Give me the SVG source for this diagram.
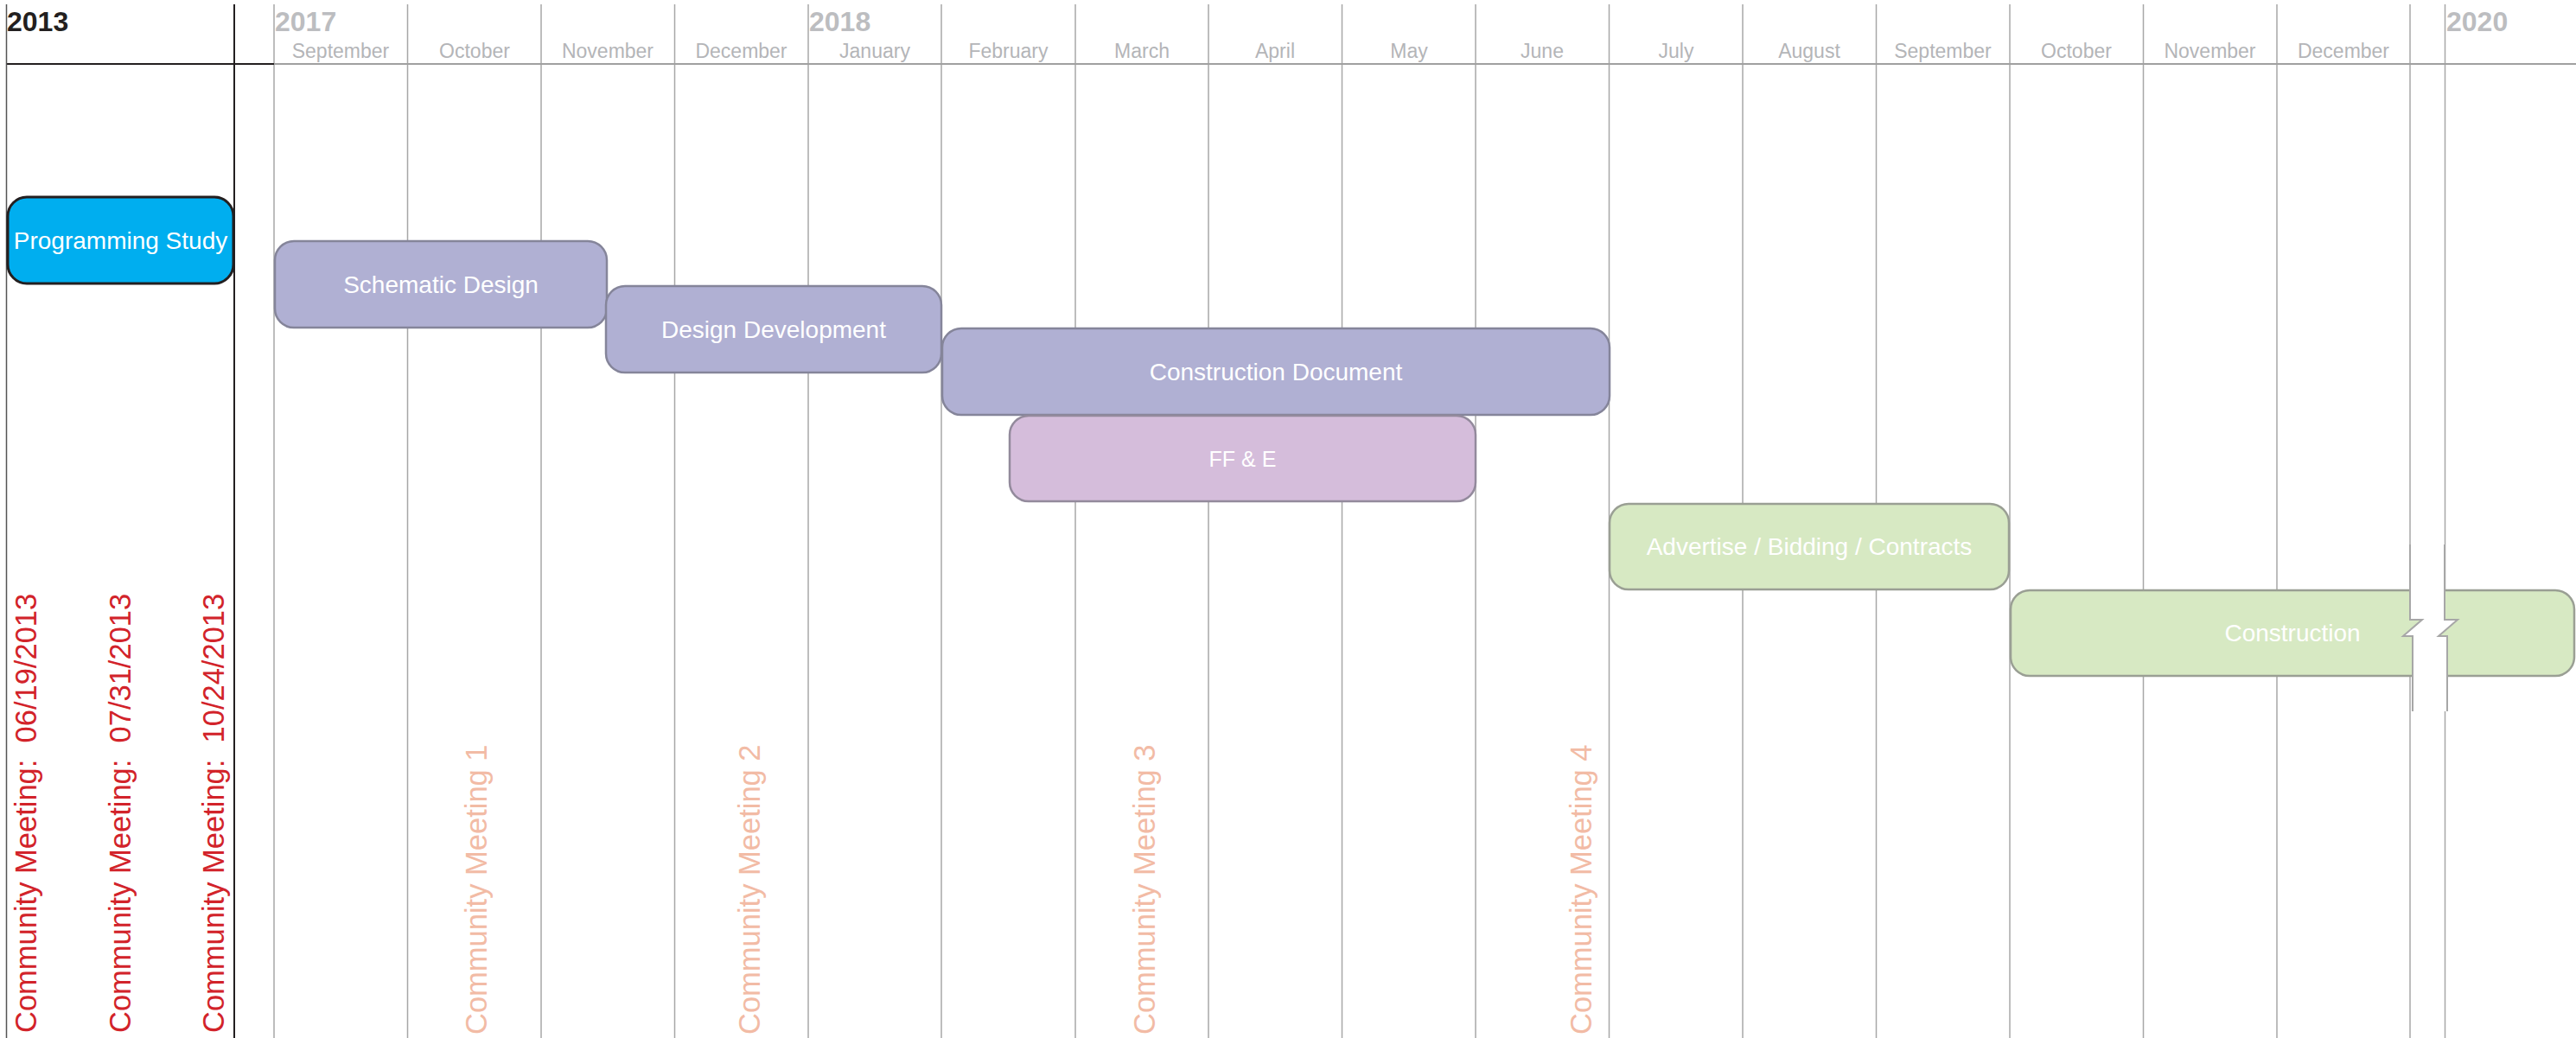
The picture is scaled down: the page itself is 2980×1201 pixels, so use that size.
<svg xmlns="http://www.w3.org/2000/svg" width="2980" height="1201" viewBox="0 0 2980 1201">
<style>
.grid{stroke:#a7a7a7;stroke-width:1.5;fill:none}
.year{font-family:"Liberation Sans",Arial,sans-serif;font-size:32px;font-weight:bold;fill:#bcbdc0}
.month{font-family:"Liberation Sans",Arial,sans-serif;font-size:23px;fill:#b4b5b8;text-anchor:middle}
.lbl{font-family:"Liberation Sans",Arial,sans-serif;font-size:28px;fill:#ffffff;text-anchor:middle}
.lav{fill:#b0b0d3;stroke:#85859a;stroke-width:2.5}
.pur{fill:#d5bddb;stroke:#938a9c;stroke-width:2.5}
.grn{fill:#d7e9c3;stroke:#9a9f94;stroke-width:2.5}
.red{font-family:"Liberation Sans",Arial,sans-serif;font-size:34.5px;fill:#d2232a}
.pink{font-family:"Liberation Sans",Arial,sans-serif;font-size:34.5px;fill:#f2bba5}
</style>
<rect width="2980" height="1201" fill="#ffffff"/>
<g id="grid">
<line class="grid" x1="317" y1="5" x2="317" y2="1201"/>
<line class="grid" x1="471.5" y1="5" x2="471.5" y2="1201"/>
<line class="grid" x1="626" y1="5" x2="626" y2="1201"/>
<line class="grid" x1="780.5" y1="5" x2="780.5" y2="1201"/>
<line class="grid" x1="935" y1="5" x2="935" y2="1201"/>
<line class="grid" x1="1089" y1="5" x2="1089" y2="1201"/>
<line class="grid" x1="1244" y1="5" x2="1244" y2="1201"/>
<line class="grid" x1="1398" y1="5" x2="1398" y2="1201"/>
<line class="grid" x1="1552.5" y1="5" x2="1552.5" y2="1201"/>
<line class="grid" x1="1707" y1="5" x2="1707" y2="1201"/>
<line class="grid" x1="1861.5" y1="5" x2="1861.5" y2="1201"/>
<line class="grid" x1="2016" y1="5" x2="2016" y2="1201"/>
<line class="grid" x1="2170.5" y1="5" x2="2170.5" y2="1201"/>
<line class="grid" x1="2325" y1="5" x2="2325" y2="1201"/>
<line class="grid" x1="2479.5" y1="5" x2="2479.5" y2="1201"/>
<line class="grid" x1="2634" y1="5" x2="2634" y2="1201"/>
<line class="grid" x1="2788" y1="5" x2="2788" y2="1201"/>
<line class="grid" x1="2828.5" y1="5" x2="2828.5" y2="1201"/>
<line x1="317" y1="74" x2="2980" y2="74" stroke="#a0a0a0" stroke-width="2"/>
<line x1="7" y1="74" x2="317" y2="74" stroke="#231f20" stroke-width="2"/>
<line x1="7.5" y1="5" x2="7.5" y2="1201" stroke="#555" stroke-width="1.5"/>
<line x1="271" y1="5" x2="271" y2="1201" stroke="#231f20" stroke-width="2"/>
</g>
<g id="header">
<text x="8" y="36" class="year" style="fill:#231f20">2013</text>
<text x="318" y="36" class="year">2017</text>
<text x="936" y="36" class="year">2018</text>
<text x="2830" y="36" class="year">2020</text>
<text class="month" x="394" y="67">September</text>
<text class="month" x="549" y="67">October</text>
<text class="month" x="703" y="67">November</text>
<text class="month" x="857.5" y="67">December</text>
<text class="month" x="1012" y="67">January</text>
<text class="month" x="1166.5" y="67">February</text>
<text class="month" x="1321" y="67">March</text>
<text class="month" x="1475" y="67">April</text>
<text class="month" x="1630" y="67">May</text>
<text class="month" x="1784" y="67">June</text>
<text class="month" x="1939" y="67">July</text>
<text class="month" x="2093" y="67">August</text>
<text class="month" x="2247.5" y="67">September</text>
<text class="month" x="2402" y="67">October</text>
<text class="month" x="2556.5" y="67">November</text>
<text class="month" x="2711" y="67">December</text>
</g>
<g id="programming-study">
<rect x="9" y="228" width="261" height="100" rx="22" fill="#00aeef" stroke="#231f20" stroke-width="3"/>
<text class="lbl" x="139.5" y="288">Programming Study</text>
</g>
<g id="schematic-design">
<rect class="lav" x="318" y="279" width="384" height="100" rx="22"/>
<text class="lbl" x="510" y="339">Schematic Design</text>
</g>
<g id="design-development">
<rect class="lav" x="701" y="331" width="388" height="100" rx="22"/>
<text class="lbl" x="895" y="391">Design Development</text>
</g>
<g id="construction-document">
<rect class="lav" x="1090" y="380" width="772" height="100" rx="22"/>
<text class="lbl" x="1476" y="440">Construction Document</text>
</g>
<g id="ffe">
<rect class="pur" x="1168" y="481" width="539" height="99" rx="22"/>
<text class="lbl" x="1437.5" y="540" style="font-size:25px">FF &amp; E</text>
</g>
<g id="advertise">
<rect class="grn" x="1862" y="583" width="462" height="99" rx="22"/>
<text class="lbl" x="2093" y="642">Advertise / Bidding / Contracts</text>
</g>
<g id="construction">
<rect class="grn" x="2326" y="683" width="652" height="99" rx="22"/>
<text class="lbl" x="2652" y="742">Construction</text>
<polygon points="2788,630 2788,717 2802,717 2780,736 2791,736 2791,823 2831,823 2831,736 2821,736 2843,717 2828,717 2828,630" fill="#ffffff"/>
<polyline points="2788,630 2788,717 2802,717 2780,736 2791,736 2791,823" fill="none" stroke="#a7a7a7" stroke-width="2"/>
<polyline points="2828,630 2828,717 2843,717 2821,736 2831,736 2831,823" fill="none" stroke="#a7a7a7" stroke-width="2"/>
</g>
<g id="meetings-2013">
<text class="red" xml:space="preserve" transform="translate(42,1195) rotate(-90)">Community Meeting:  06/19/2013</text>
<text class="red" xml:space="preserve" transform="translate(151,1195) rotate(-90)">Community Meeting:  07/31/2013</text>
<text class="red" xml:space="preserve" transform="translate(259,1195) rotate(-90)">Community Meeting:  10/24/2013</text>
</g>
<g id="meetings">
<text class="pink" transform="translate(563,1197) rotate(-90)">Community Meeting 1</text>
<text class="pink" transform="translate(879,1197) rotate(-90)">Community Meeting 2</text>
<text class="pink" transform="translate(1336,1197) rotate(-90)">Community Meeting 3</text>
<text class="pink" transform="translate(1841,1197) rotate(-90)">Community Meeting 4</text>
</g>
</svg>
